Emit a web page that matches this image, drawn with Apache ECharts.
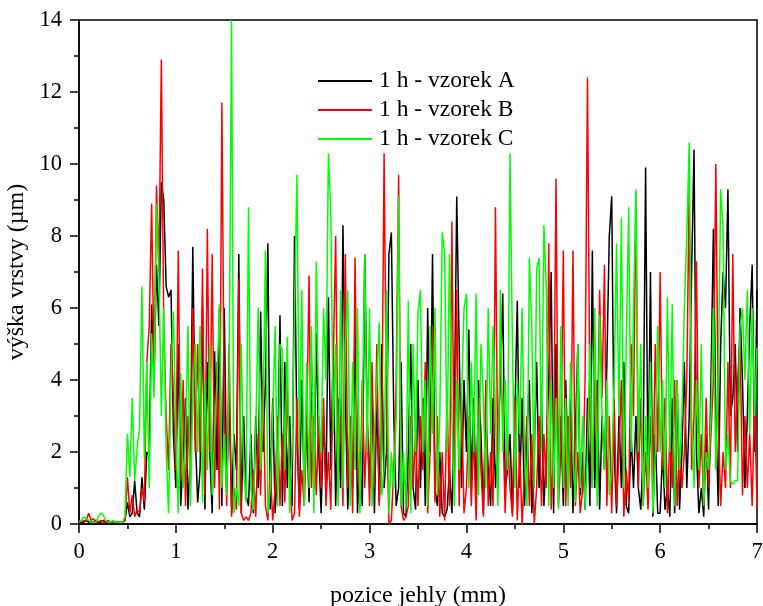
<!DOCTYPE html>
<html><head><meta charset="utf-8">
<script src="https://cdn.jsdelivr.net/npm/echarts@6/dist/echarts.min.js"></script>
<style>html,body{margin:0;padding:0;background:#fff;overflow:hidden}#c{width:763px;height:606px}</style>
</head><body><div id="c"></div>
<script>
// sampling step along the needle position axis (mm)
const STEP = 0.025;
const xTicks = ['0','1','2','3','4','5','6','7'];
const yTicks = ['0','2','4','6','8','10','12','14'];
const seriesNames = ['1 h - vzorek A','1 h - vzorek B','1 h - vzorek C'];

const vzorekA = [
0.05,0.05,0.05,0.1,0.05,0.05,0.05,0.1,0.05,0.05,0.1,0.05,0.05,0.05,0.05,0.05,0.05,0.05,0.05,0.1,
0.6,0.2,0.3,1.2,0.3,0.2,1.3,0.4,2.0,1.9,
6.1,4.0,7.2,5.5,9.5,9.0,6.6,6.3,6.5,2.5,
1.0,5.0,0.5,1.8,3.5,0.4,2.0,7.7,2.5,0.6,
1.5,6.0,0.4,4.5,2.0,0.3,4.8,1.5,6.0,0.5,
6.0,1.0,3.5,0.5,2.5,1.5,7.5,0.3,3.0,0.8,
0.5,2.5,0.3,3.0,1.0,5.9,2.0,4.0,7.8,0.4,
3.5,0.3,1.5,5.8,0.5,4.5,1.0,3.0,0.5,8.0,
2.5,0.4,4.0,1.0,3.0,0.6,4.5,1.0,5.3,2.0,
0.3,3.0,1.0,6.3,1.5,5.0,0.5,3.5,1.0,8.3,
3.5,0.4,2.5,1.0,5.5,0.3,2.0,0.5,7.5,3.0,
1.0,4.0,0.3,3.5,0.6,5.0,1.0,2.0,7.5,8.1,
3.0,0.5,1.0,4.5,0.3,0.2,2.0,5.0,1.0,0.4,
4.0,1.0,3.5,0.5,6.0,2.0,7.5,1.0,0.5,2.0,
0.3,0.2,0.4,1.5,0.3,3.0,9.1,5.0,1.0,4.0,
2.0,5.4,1.0,3.5,0.5,4.0,2.5,0.3,3.0,1.5,
0.5,3.5,1.0,2.5,4.0,6.4,1.0,1.5,2.5,0.3,
3.0,6.2,1.0,3.5,0.5,2.5,4.0,0.3,2.0,4.5,
1.0,3.5,0.5,2.0,4.0,7.0,0.3,5.0,1.5,3.0,
0.5,4.0,1.5,3.5,0.3,2.5,5.0,0.8,2.0,0.4,
3.5,0.5,7.6,1.0,4.0,0.4,3.0,1.5,4.5,8.0,
9.1,2.0,0.3,3.0,1.0,4.5,0.5,0.3,2.5,1.0,
3.0,1.0,0.4,2.0,9.9,1.0,7.0,0.2,2.5,0.3,
0.3,2.0,0.4,1.0,0.2,3.5,0.3,4.0,0.4,2.0,
4.5,1.0,3.0,7.0,10.4,2.0,0.3,1.0,0.2,2.5,
0.4,4.0,8.2,3.0,0.5,5.0,7.0,6.0,9.3,3.0,
3.5,5.0,2.0,6.0,4.0,1.0,3.0,5.5,7.2,2.0,6.5
];

const vzorekB = [
0.1,0.05,0.1,0.1,0.3,0.1,0.15,0.05,0.05,0.1,0.05,0.05,0.1,0.05,0.05,0.05,0.05,0.05,0.05,0.1,
1.3,0.3,0.8,0.2,0.4,0.3,1.0,0.6,4.5,5.5,
8.9,4.2,9.4,7.0,12.9,5.5,3.0,1.5,5.0,3.5,
1.5,7.6,1.2,4.0,0.5,3.0,1.0,6.0,2.0,5.0,
2.0,7.1,0.8,8.2,2.0,7.5,1.0,4.5,0.4,11.7,
3.0,0.5,5.0,0.2,1.0,0.4,6.8,0.3,0.1,0.2,
0.1,0.3,1.5,0.2,2.5,0.8,4.0,0.5,0.1,1.5,
0.1,1.0,3.0,0.5,2.5,0.6,3.8,1.5,0.1,0.3,
3.5,0.2,1.5,0.5,2.5,6.9,1.0,3.0,0.8,3.0,
1.0,3.5,0.5,2.0,0.4,4.5,8.0,1.5,3.0,0.5,
7.5,1.0,3.0,0.3,7.4,2.0,0.5,4.0,1.0,3.0,
0.5,4.5,1.0,5.0,0.5,2.0,10.3,3.0,0.0,0.1,
1.5,4.0,9.7,0.5,0.1,0.2,0.5,3.0,1.0,2.5,
0.5,3.0,1.5,4.5,0.3,2.0,5.5,0.6,3.0,0.2,
2.0,0.1,3.5,0.5,8.4,1.0,6.5,0.5,3.5,0.3,
1.0,3.0,0.5,2.5,0.1,3.5,1.5,0.2,4.0,0.5,
2.0,0.5,8.8,1.0,4.5,3.0,0.3,2.5,1.0,0.2,
3.5,0.1,2.0,0.0,1.5,3.0,0.5,2.5,0.0,1.0,
3.0,0.5,2.5,1.0,7.8,0.4,2.0,9.6,0.5,2.0,
7.6,0.5,3.0,1.0,7.6,0.5,2.0,0.3,1.0,4.0,
12.4,3.0,1.0,4.0,2.0,6.5,3.5,7.2,0.5,3.0,
0.3,3.5,0.5,2.0,4.0,0.2,1.5,0.6,5.0,3.0,
9.2,1.0,3.5,0.5,2.0,0.4,3.0,1.0,5.0,2.0,
7.0,1.5,3.5,0.3,2.5,1.0,4.0,0.5,2.0,1.0,
2.0,4.0,9.3,1.5,3.0,7.3,1.0,2.5,0.5,3.5,
1.0,2.5,4.0,10.0,3.0,0.5,2.0,1.0,4.5,1.0,
7.5,2.0,4.0,5.2,0.8,3.0,1.0,2.5,0.5,3.5,0.5
];

const vzorekC = [
0.05,0.1,0.2,0.15,0.1,0.05,0.05,0.05,0.2,0.3,0.25,0.1,0.05,0.05,0.1,0.05,0.05,0.05,0.05,0.2,
2.5,1.3,3.5,1.2,2.1,2.7,6.6,1.8,4.5,1.0,
5.3,3.5,8.9,7.0,3.0,6.0,2.0,0.3,4.0,5.9,
2.5,0.3,4.2,1.0,2.5,5.5,0.5,3.5,5.0,2.0,
5.5,0.6,4.0,1.5,5.0,0.8,2.5,4.0,6.1,1.0,
2.5,0.8,4.0,14.0,0.3,1.0,0.5,5.0,1.5,0.6,
8.8,1.0,0.4,2.5,6.0,1.5,3.0,7.6,0.3,1.0,
3.0,5.5,0.5,5.0,4.8,1.5,5.2,0.3,2.0,6.0,
9.7,2.0,6.5,0.5,4.5,1.0,5.5,0.3,7.3,3.0,
2.0,6.0,4.0,10.3,8.6,2.5,5.0,0.5,6.5,1.0,
5.0,6.5,0.5,4.5,1.5,6.0,0.3,3.0,7.5,2.0,
6.0,0.5,2.5,4.0,5.6,0.8,1.5,6.5,0.3,2.0,
1.0,3.0,9.1,0.5,2.0,0.4,6.2,0.3,5.0,2.0,
5.9,6.5,2.0,4.0,0.5,5.5,2.5,6.0,0.8,3.0,
8.1,7.5,2.0,7.5,3.0,0.5,4.0,1.5,3.5,6.0,
6.4,1.0,4.5,2.0,6.4,0.8,5.0,3.5,1.0,6.0,
2.5,5.5,3.0,0.5,6.5,2.0,4.0,1.5,10.3,5.0,
1.0,4.0,2.5,6.0,2.0,0.5,7.4,5.5,1.0,7.1,
7.4,2.0,8.3,6.5,0.5,4.0,1.0,3.5,0.4,5.5,
1.0,3.5,0.5,4.5,2.0,0.6,5.0,1.0,3.0,0.4,
2.0,5.0,1.0,6.0,0.5,5.8,3.0,1.5,4.0,0.8,
1.5,4.0,7.8,3.0,8.5,1.0,5.0,8.8,2.0,6.0,
9.3,2.0,5.0,0.5,3.0,1.0,4.5,0.3,2.0,5.5,
2.0,4.0,1.0,6.3,2.0,6.1,0.5,4.0,1.5,3.0,
6.0,8.0,10.6,3.0,1.0,4.0,1.5,5.0,0.5,2.0,
1.5,3.0,6.0,1.5,4.0,9.3,8.2,1.5,2.5,1.2,
1.1,1.2,1.2,5.5,6.0,4.0,6.5,2.5,6.0,3.0,4.9
];

const colors = ['#000000','#ff0000','#00ff00'];
const FONT = '"Liberation Serif","Times New Roman",serif';

function pairs(arr){ return arr.map((v,i)=>[+(i*STEP).toFixed(3), v]); }

const chart = echarts.init(document.getElementById('c'), null, {renderer:'canvas'});
chart.setOption({
  animation:false,
  backgroundColor:'#fff',
  grid:{left:79,right:6,top:20,bottom:82,outerBoundsMode:'none',containLabel:false,
    show:true,borderColor:'#000',borderWidth:1.5,backgroundColor:'transparent'},
  legend:{
    orient:'vertical', left:313, top:64, itemWidth:54, itemHeight:2, itemGap:5, icon:'rect',
    data:seriesNames,
    textStyle:{fontFamily:FONT,fontSize:23.5,color:'#000',padding:[0,0,0,2]}
  },
  xAxis:{
    type:'value', min:0, max:7, interval:1,
    name:'pozice jehly (mm)', nameLocation:'middle', nameGap:60,
    nameTextStyle:{fontFamily:FONT,fontSize:24,color:'#000'},
    axisLine:{lineStyle:{color:'#000',width:1.5}},
    axisTick:{inside:false,length:9,lineStyle:{color:'#000',width:1.5}},
    minorTick:{show:true,splitNumber:2,length:5,lineStyle:{color:'#000',width:1.5}},
    splitLine:{show:false},
    axisLabel:{fontFamily:FONT,fontSize:22.5,color:'#000',margin:17,
      formatter:(v)=>xTicks[Math.round(v)]}
  },
  yAxis:{
    type:'value', min:0, max:14, interval:2,
    name:'výška vrstvy (µm)', nameLocation:'middle', nameGap:47,
    nameTextStyle:{fontFamily:FONT,fontSize:24,color:'#000'},
    axisLine:{show:true,lineStyle:{color:'#000',width:1.5}},
    axisTick:{show:true,inside:false,length:9,lineStyle:{color:'#000',width:1.5}},
    minorTick:{show:true,splitNumber:2,length:5,lineStyle:{color:'#000',width:1.5}},
    splitLine:{show:false},
    axisLabel:{fontFamily:FONT,fontSize:22.5,color:'#000',margin:17,
      formatter:(v)=>yTicks[Math.round(v/2)]}
  },
  series:[vzorekA,vzorekB,vzorekC].map((d,k)=>({
    name:seriesNames[k], type:'line', data:pairs(d), symbol:'none', showSymbol:false,
    lineStyle:{color:colors[k],width:1.5}, itemStyle:{color:colors[k]},
    z:2+k
  }))
});
</script>
</body></html>
